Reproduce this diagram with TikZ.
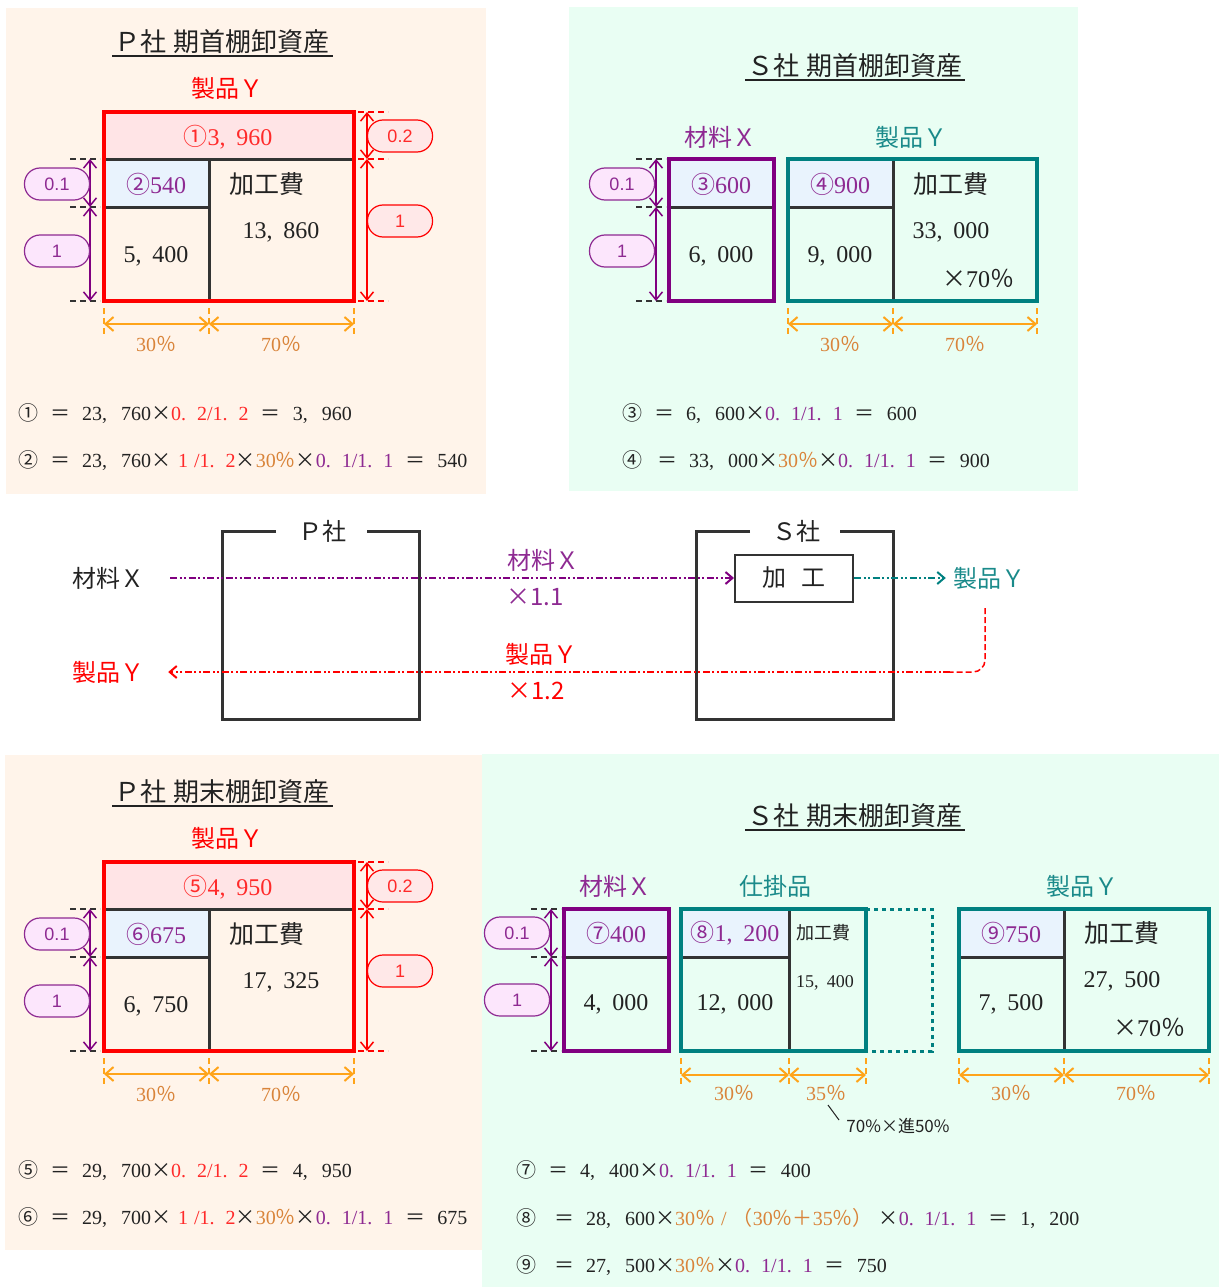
\documentclass[tikz,border=0pt]{standalone}
\usepackage{fontspec}
\setmainfont{Liberation Serif}
\newfontfamily\jp{Noto Sans CJK JP}
\newfontfamily\lsans{Liberation Sans}
\usetikzlibrary{arrows.meta}
\definecolor{peach}{HTML}{FFF4EA}
\definecolor{mint}{HTML}{E9FEF3}
\definecolor{pband}{HTML}{FFE4E6}
\definecolor{bcell}{HTML}{E9F3FD}
\definecolor{pur}{HTML}{800080}
\definecolor{purt}{HTML}{8E2A92}
\definecolor{tealc}{HTML}{008080}
\definecolor{tealt}{HTML}{1A8A8A}
\definecolor{orgl}{HTML}{FFA41A}
\definecolor{orgt}{HTML}{D9843A}
\definecolor{dk}{HTML}{333333}
\definecolor{txt}{HTML}{222222}
\definecolor{redc}{HTML}{FF0000}
\definecolor{redt}{HTML}{FF2A2A}
\definecolor{ppillc}{HTML}{FCE6FC}
\definecolor{rpillc}{HTML}{FFE8E8}
\newcommand\fsz[1]{\fontsize{#1}{#1}\selectfont}
\newcommand\Cm{,\hspace{0.45em}}
\newcommand\Cf{,\hspace{0.7em}}
\newcommand\Df{.\hspace{0.55em}}
\newcommand\Eqq{\hspace{0.6em}{\jp ＝}\hspace{0.6em}}
\newcommand\Tm{{\jp ×}}
\newcommand\Pct{{\jp ％}}
\tikzset{
 num/.style={font=\fsz{24}, text=txt, inner sep=0pt},
 jl/.style={font=\fsz{24}\jp, inner sep=0pt},
 ttl/.style={font=\fsz{26}\jp, text=txt, inner sep=0pt},
 frm/.style={font=\fsz{20}, text=txt, anchor=west, inner sep=0pt},
 pct/.style={font=\fsz{20}, text=orgt, inner sep=0pt},
 inl/.style={draw=dk, line width=3pt},
 uline/.style={draw=txt, line width=2.2pt},
 tickk/.style={draw=dk, line width=1.5pt, dash pattern=on 6pt off 4pt},
 tickr/.style={draw=redc, line width=1.5pt, dash pattern=on 6pt off 4pt},
 ticko/.style={draw=orgl, line width=1.5pt, dash pattern=on 6pt off 4pt},
 dimp/.style={draw=pur, line width=1.5pt, >={Straight Barb[length=8pt,width=13pt]}, <->},
 dimr/.style={draw=redc, line width=1.5pt, >={Straight Barb[length=8pt,width=13pt]}, <->},
 dimo/.style={draw=orgl, line width=2pt, >={Straight Barb[length=8pt,width=14pt]}, <->},
 ppill/.style={draw=purt, fill=ppillc, text=purt, line width=1.2pt, rounded corners=15.5pt, minimum width=65pt, minimum height=32pt, inner sep=0pt, font=\fsz{18}\lsans},
 rpill/.style={draw=redc, fill=rpillc, text=redt, line width=1.2pt, rounded corners=15.5pt, minimum width=65pt, minimum height=32pt, inner sep=0pt, font=\fsz{18}\lsans},
 ddot/.style={dash pattern=on 7pt off 2.5pt on 2pt off 2.5pt on 2pt off 2.5pt},
 flowtip/.style={>={Straight Barb[length=7pt,width=12pt]}, ->},
}
\begin{document}
\begin{tikzpicture}[x=1pt,y=-1pt]
\useasboundingbox (0,0) rectangle (1219,1287);
% backgrounds
\fill[peach] (6,8) rectangle (486,494);
\fill[mint] (569,7) rectangle (1078,491);
\fill[peach] (5,755) rectangle (484,1250);
\fill[mint] (482,754) rectangle (1219,1287);

% ===== P company, two panels (top and bottom) =====
\foreach \dy/\ttxt/\bandt/\cellt/\bign/\smn/\pre in {0/期首/{{\jp ①}3\Cm960}/{{\jp ②}540}/{13\Cm860}/{5\Cm400}/a, 750/期末/{{\jp ⑤}4\Cm950}/{{\jp ⑥}675}/{17\Cm325}/{6\Cm750}/b}{
\begin{scope}[shift={(0,\dy)}]
\node[ttl] (\pre title) at (222,42) {Ｐ社\hspace{0.3em}\ttxt 棚卸資産};
\draw[uline] (112,56) -- (333,56);
\node[jl, text=redc] (\pre prod) at (227,88) {製品Ｙ};
\fill[pband] (104,112) rectangle (354,159);
\fill[bcell] (104,159) rectangle (209,207);
\draw[inl] (104,159) -- (354,159) (209,159) -- (209,301) (104,207) -- (209,207);
\draw[redc, line width=4pt] (104,112) rectangle (354,301);
\node[num, text=redt] (\pre band) at (228,137) {\bandt};
\node[num, text=purt] (\pre cell) at (156,184) {\cellt};
\node[jl, font=\fsz{25}\jp, text=txt] (\pre kk) at (267,184) {加工費};
\node[num] (\pre big) at (281,232) {\bign};
\node[num] (\pre small) at (156,256) {\smn};
% left dimension
\draw[tickk] (70,159) -- (100,159);
\draw[tickk] (70,207) -- (100,207);
\draw[tickk] (70,301) -- (100,301);
\coordinate (\pre L1) at (90,159);
\coordinate (\pre L2) at (90,207);
\coordinate (\pre L3) at (90,301);
\draw[dimp] (\pre L1) -- (\pre L2);
\draw[dimp] (\pre L2) -- (\pre L3);
\node[ppill] (\pre pa) at (57,184) {0.1};
\node[ppill] (\pre pb) at (57,251) {1};
% right dimension
\draw[tickr] (358,112) -- (388,112);
\draw[tickr] (358,159) -- (388,159);
\draw[tickr] (358,301) -- (388,301);
\coordinate (\pre R1) at (367,112);
\coordinate (\pre R2) at (367,159);
\coordinate (\pre R3) at (367,301);
\draw[dimr] (\pre R1) -- (\pre R2);
\draw[dimr] (\pre R2) -- (\pre R3);
\node[rpill] (\pre pc) at (400,136) {0.2};
\node[rpill] (\pre pd) at (400,221) {1};
% bottom dimension
\draw[ticko] (104,308) -- (104,334);
\draw[ticko] (209,308) -- (209,334);
\draw[ticko] (354,308) -- (354,334);
\coordinate (\pre B1) at (104,324);
\coordinate (\pre B2) at (209,324);
\coordinate (\pre B3) at (354,324);
\draw[dimo] (\pre B1) -- (\pre B2);
\draw[dimo] (\pre B2) -- (\pre B3);
\node[pct] (\pre q1) at (156,344) {30\Pct};
\node[pct] (\pre q2) at (281,344) {70\Pct};
\end{scope}
}
\node[frm] (f1) at (18,414) {{\jp ①}\Eqq 23\Cf760\Tm\textcolor{redt}{0\Df2/1\Df2}\Eqq 3\Cf960};
\node[frm] (f2) at (18,461) {{\jp ②}\Eqq 23\Cf760\Tm\hspace{0.35em}\textcolor{redt}{1\hspace{0.3em}/1\Df2}\Tm\textcolor{orgt}{30\Pct}\Tm\textcolor{purt}{0\Df1/1\Df1}\Eqq 540};
\node[frm] (f5) at (18,1171) {{\jp ⑤}\Eqq 29\Cf700\Tm\textcolor{redt}{0\Df2/1\Df2}\Eqq 4\Cf950};
\node[frm] (f6) at (18,1218) {{\jp ⑥}\Eqq 29\Cf700\Tm\hspace{0.35em}\textcolor{redt}{1\hspace{0.3em}/1\Df2}\Tm\textcolor{orgt}{30\Pct}\Tm\textcolor{purt}{0\Df1/1\Df1}\Eqq 675};

% ===== S company, top panel =====
\node[ttl] (stitle) at (855,66) {Ｓ社\hspace{0.3em}期首棚卸資産};
\draw[uline] (745,80) -- (965,80);
\node[jl, text=purt] (smat) at (720,137) {材料Ｘ};
\node[jl, text=tealt] (sprod) at (911,137) {製品Ｙ};
\fill[bcell] (669,159) rectangle (774,207);
\draw[inl] (669,207) -- (774,207);
\draw[pur, line width=4pt] (669,159) rectangle (774,301);
\fill[bcell] (788,159) rectangle (893,207);
\draw[inl] (893,159) -- (893,301) (788,207) -- (893,207);
\draw[tealc, line width=4pt] (788,159) rectangle (1037,301);
\node[num, text=purt] (s3) at (721,184) {{\jp ③}600};
\node[num] (s3b) at (721,256) {6\Cm000};
\node[num, text=purt] (s4) at (840,184) {{\jp ④}900};
\node[num] (s4b) at (840,256) {9\Cm000};
\node[jl, font=\fsz{25}\jp, text=txt] (skk) at (951,184) {加工費};
\node[num] (sbig) at (951,232) {33\Cm000};
\node[num] (s70) at (978,278) {\Tm70\Pct};
\draw[tickk] (636,159) -- (666,159);
\draw[tickk] (636,207) -- (666,207);
\draw[tickk] (636,301) -- (666,301);
\coordinate (sL1) at (656,159);
\coordinate (sL2) at (656,207);
\coordinate (sL3) at (656,301);
\draw[dimp] (sL1) -- (sL2);
\draw[dimp] (sL2) -- (sL3);
\node[ppill] (spa) at (622,184) {0.1};
\node[ppill] (spb) at (622,251) {1};
\draw[ticko] (788,308) -- (788,334);
\draw[ticko] (893,308) -- (893,334);
\draw[ticko] (1037,308) -- (1037,334);
\coordinate (sB1) at (788,324);
\coordinate (sB2) at (893,324);
\coordinate (sB3) at (1037,324);
\draw[dimo] (sB1) -- (sB2);
\draw[dimo] (sB2) -- (sB3);
\node[pct] (sq1) at (840,344) {30\Pct};
\node[pct] (sq2) at (965,344) {70\Pct};
\node[frm] (f3) at (622,414) {{\jp ③}\Eqq 6\Cf600\Tm\textcolor{purt}{0\Df1/1\Df1}\Eqq 600};
\node[frm] (f4) at (622,461) {{\jp ④}\hspace{0.15em}\Eqq 33\Cf000\Tm\textcolor{orgt}{30\Pct}\Tm\textcolor{purt}{0\Df1/1\Df1}\Eqq 900};

% ===== middle flow =====
\draw[dk, line width=3pt] (276,531) -- (222,531) -- (222,719) -- (419,719) -- (419,531) -- (367,531);
\node[jl, text=txt] (nP) at (322,531) {Ｐ社};
\draw[dk, line width=3pt] (750,531) -- (696,531) -- (696,719) -- (893,719) -- (893,531) -- (840,531);
\node[jl, text=txt] (nS) at (796,531) {Ｓ社};
\node[draw=dk, line width=2pt, minimum width=118pt, minimum height=47pt, inner sep=0pt, font=\fsz{24}\jp, text=txt] (kako) at (794,578) {加\hspace{0.6em}工};
\node[jl, text=txt] (mX) at (108,578) {材料Ｘ};
\node[jl, text=tealt] (yT) at (989,578) {製品Ｙ};
\node[jl, text=redc] (yR) at (108,672) {製品Ｙ};
\draw[pur, line width=2pt, ddot, flowtip, shorten <=26pt] (mX.east) -- (kako.west);
\node[jl, text=purt] (lx1) at (543,560) {材料Ｘ};
\node[jl, text=purt] (lx2) at (535,597) {×1.1};
\draw[tealc, line width=2pt, ddot, flowtip, shorten >=7pt] (kako.east) -- (yT.west);
\coordinate (rs) at (985,608);
\coordinate (rc) at (950,672);
\draw[redc, line width=1.5pt, dash pattern=on 6pt off 3pt, rounded corners=12pt] (rs) |- (rc);
\draw[redc, line width=2pt, ddot, flowtip, shorten >=24pt] (rc) -- (yR.east);
\node[jl, text=redc] (ly1) at (541,654) {製品Ｙ};
\node[jl, text=redc] (ly2) at (536,691) {×1.2};

% ===== S company, bottom panel =====
\node[ttl] (s2title) at (855,816) {Ｓ社\hspace{0.3em}期末棚卸資産};
\draw[uline] (745,830) -- (965,830);
\node[jl, text=purt] (bmat) at (615,886) {材料Ｘ};
\node[jl, text=tealt] (bwip) at (775,886) {仕掛品};
\node[jl, text=tealt] (bprod) at (1082,886) {製品Ｙ};
% material box
\fill[bcell] (564,909) rectangle (669,957);
\draw[inl] (564,957) -- (669,957);
\draw[pur, line width=4pt] (564,909) rectangle (669,1051);
\node[num, text=purt] (b7) at (616,933) {{\jp ⑦}400};
\node[num] (b7b) at (616,1004) {4\Cm000};
% WIP box
\fill[bcell] (681,909) rectangle (789,957);
\draw[inl] (789,909) -- (789,1051) (681,957) -- (789,957);
\draw[tealc, line width=3pt, dash pattern=on 4pt off 4pt] (866,909) -- (932,909) -- (932,1051) -- (866,1051);
\draw[tealc, line width=4pt] (681,909) rectangle (866,1051);
\node[num, text=purt] (b8) at (735,933) {{\jp ⑧}1\Cm200};
\node[num] (b8b) at (735,1004) {12\Cm000};
\node[jl, font=\fsz{18}\jp, text=txt] (bkk1) at (823,933) {加工費};
\node[num, font=\fsz{18}] (bbig1) at (825,983) {15\Cm400};
% product box
\fill[bcell] (959,909) rectangle (1064,957);
\draw[inl] (1064,909) -- (1064,1051) (959,957) -- (1064,957);
\draw[tealc, line width=4pt] (959,909) rectangle (1209,1051);
\node[num, text=purt] (b9) at (1011,933) {{\jp ⑨}750};
\node[num] (b9b) at (1011,1004) {7\Cm500};
\node[jl, font=\fsz{25}\jp, text=txt] (bkk2) at (1122,933) {加工費};
\node[num] (bbig2) at (1122,981) {27\Cm500};
\node[num] (b70) at (1149,1027) {\Tm70\Pct};
% dims
\draw[tickk] (531,909) -- (561,909);
\draw[tickk] (531,957) -- (561,957);
\draw[tickk] (531,1051) -- (561,1051);
\coordinate (bL1) at (551,909);
\coordinate (bL2) at (551,957);
\coordinate (bL3) at (551,1051);
\draw[dimp] (bL1) -- (bL2);
\draw[dimp] (bL2) -- (bL3);
\node[ppill] (bpa) at (517,933) {0.1};
\node[ppill] (bpb) at (517,1000) {1};
\draw[ticko] (681,1058) -- (681,1084);
\draw[ticko] (789,1058) -- (789,1084);
\draw[ticko] (866,1058) -- (866,1084);
\coordinate (bB1) at (681,1075);
\coordinate (bB2) at (789,1075);
\coordinate (bB3) at (866,1075);
\draw[dimo] (bB1) -- (bB2);
\draw[dimo] (bB2) -- (bB3);
\node[pct] (bq1) at (734,1093) {30\Pct};
\node[pct] (bq2) at (826,1093) {35\Pct};
\draw[ticko] (959,1058) -- (959,1084);
\draw[ticko] (1064,1058) -- (1064,1084);
\draw[ticko] (1209,1058) -- (1209,1084);
\coordinate (bC1) at (959,1075);
\coordinate (bC2) at (1064,1075);
\coordinate (bC3) at (1209,1075);
\draw[dimo] (bC1) -- (bC2);
\draw[dimo] (bC2) -- (bC3);
\node[pct] (bq3) at (1011,1093) {30\Pct};
\node[pct] (bq4) at (1136,1093) {70\Pct};
\node[font=\fsz{17}\jp, text=txt, inner sep=0pt] (note) at (898,1126) {70\%×進50\%};
\coordinate (an1) at (828,1105);
\coordinate (an2) at (839,1120);
\draw[txt, line width=1pt] (an1) -- (an2);
\node[frm] (f7) at (516,1171) {{\jp ⑦}\Eqq 4\Cf400\Tm\textcolor{purt}{0\Df1/1\Df1}\Eqq 400};
\node[frm] (f8) at (516,1218) {{\jp ⑧}\hspace{0.3em}\Eqq 28\Cf600\Tm\textcolor{orgt}{30\Pct\hspace{0.3em}/\hspace{0.3em}{\jp （}30\Pct{\jp ＋}35\Pct{\jp ）}}\hspace{0.3em}\Tm\textcolor{purt}{0\Df1/1\Df1}\Eqq 1\Cf200};
\node[frm] (f9) at (516,1266) {{\jp ⑨}\hspace{0.3em}\Eqq 27\Cf500\Tm\textcolor{orgt}{30\Pct}\Tm\textcolor{purt}{0\Df1/1\Df1}\Eqq 750};
\end{tikzpicture}
\end{document}
